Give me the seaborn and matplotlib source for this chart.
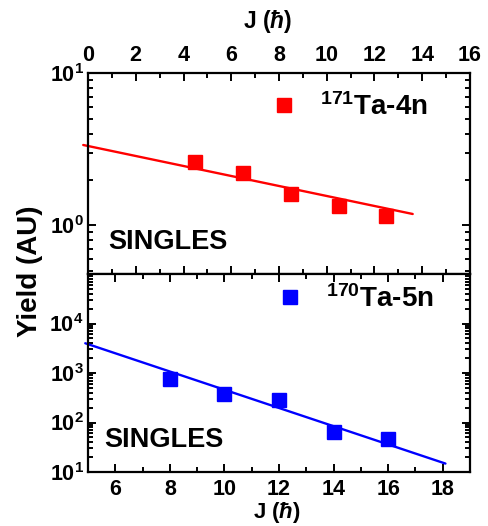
import numpy as np
import pandas as pd
import matplotlib
matplotlib.use("Agg")
import matplotlib.pyplot as plt
import seaborn as sns
from matplotlib.ticker import FixedLocator, MultipleLocator, FuncFormatter, LogLocator, NullFormatter

# ---- data ----
j_171 = [4.5, 6.5, 8.5, 10.5, 12.5]
yield_171 = [2.6, 2.2, 1.6, 1.35, 1.16]
fit_171_j = [-0.2, 13.6]
fit_171_y = [3.38, 1.19]

j_170 = [8, 10, 12, 14, 16]
yield_170 = [760, 380, 280, 65, 46]
fit_170_j = [4.9, 18.1]
fit_170_y = [3990, 14.8]

label_171 = r"$^{\mathbf{171}}$Ta-4n"
label_170 = r"$^{\mathbf{170}}$Ta-5n"
panel_text = "SINGLES"
xlabel = r"J ($\hbar$)"
ylabel = "Yield (AU)"

sns.set_style("ticks")
plt.rcParams["font.family"] = ["Liberation Sans", "DejaVu Sans"]
plt.rcParams["font.weight"] = "bold"
plt.rcParams["mathtext.fontset"] = "custom"
plt.rcParams["mathtext.rm"] = "Liberation Sans:bold"
plt.rcParams["mathtext.bf"] = "Liberation Sans:bold"
plt.rcParams["mathtext.it"] = "Liberation Sans:bold:italic"
plt.rcParams["axes.linewidth"] = 1.6
for k in ["text.color", "axes.labelcolor", "xtick.color", "ytick.color", "axes.edgecolor"]:
    plt.rcParams[k] = "black"

fig = plt.figure(figsize=(4.89, 5.26), dpi=100)
L, R = 88 / 489, 470 / 489
top_t, mid, bot = 1 - 73.3 / 526, 1 - 274 / 526, 1 - 472 / 526
ax1 = fig.add_axes([L, mid, R - L, top_t - mid])
ax2 = fig.add_axes([L, bot, R - L, mid - bot])

df1 = pd.DataFrame({"J": j_171, "Y": yield_171})
df2 = pd.DataFrame({"J": j_170, "Y": yield_170})

red = "#ff0000"
blue = "#0000ff"

sns.lineplot(x=fit_171_j, y=fit_171_y, ax=ax1, color=red, lw=1.7, clip_on=False)
ax1.plot(df1["J"], df1["Y"], ls="none", marker="s", ms=10, color=red, label=label_171, clip_on=False)
sns.lineplot(x=fit_170_j, y=fit_170_y, ax=ax2, color=blue, lw=1.7, clip_on=False)
ax2.plot(df2["J"], df2["Y"], ls="none", marker="s", ms=10, color=blue, label=label_170, clip_on=False)

fmt = FuncFormatter(lambda v, p: r"$\mathbf{10^{%d}}$" % int(round(np.log10(v))))

for ax in (ax1, ax2):
    ax.set_yscale("log")
    ax.yaxis.set_major_formatter(fmt)
    ax.yaxis.set_minor_formatter(NullFormatter())
    ax.tick_params(which="both", direction="in", top=True, right=True, width=1.4)
    ax.tick_params(which="major", length=6, labelsize=15.5)
    ax.tick_params(which="minor", length=3.5)
    ax.tick_params(axis="y", pad=3)
    ax.set_xlabel("")
    ax.set_ylabel("")

# top panel
ax1.set_xlim(0, 16)
ax1.set_ylim(0.48, 10)
ax1.xaxis.set_major_locator(MultipleLocator(2))
ax1.xaxis.set_minor_locator(MultipleLocator(1))
ax1.yaxis.set_major_locator(LogLocator(base=10, numticks=10))
ax1.yaxis.set_minor_locator(LogLocator(base=10, subs=np.arange(2, 10), numticks=20))
ax1.xaxis.tick_top()
ax1.tick_params(which="both", bottom=True, top=True, labelbottom=False, labeltop=True)
ax1.tick_params(axis="x", pad=5)
ax1.xaxis.set_label_position("top")
ax1.set_xlabel(xlabel, fontsize=16.5, fontweight="bold")
ax1.xaxis.set_label_coords(0.469, 1.256)
ax1.xaxis.label.set_va("center")
ax1.text(0.052, 0.161, panel_text, transform=ax1.transAxes, fontsize=19.5, fontweight="bold", va="center")
ax1.legend(loc="center left", bbox_to_anchor=(0.476, 0.832), frameon=False, handlelength=1.0,
           handletextpad=0.8, borderpad=0, borderaxespad=0, prop={"size": 20, "weight": "bold"})

# bottom panel
ax2.set_xlim(5, 19)
ax2.set_ylim(10, 1e5)
ax2.xaxis.set_major_locator(MultipleLocator(2))
ax2.xaxis.set_minor_locator(MultipleLocator(1))
ax2.yaxis.set_major_locator(FixedLocator([1e1, 1e2, 1e3, 1e4]))
ax2.yaxis.set_minor_locator(LogLocator(base=10, subs=np.arange(2, 10), numticks=20))
ax2.tick_params(axis="x", pad=5)
ax2.set_xlabel(xlabel, fontsize=16, fontweight="bold")
ax2.xaxis.set_label_coords(0.494, -0.207)
ax2.xaxis.label.set_va("center")
ax2.text(0.042, 0.161, panel_text, transform=ax2.transAxes, fontsize=19.5, fontweight="bold", va="center")
ax2.legend(loc="center left", bbox_to_anchor=(0.492, 0.874), frameon=False, handlelength=1.0,
           handletextpad=0.8, borderpad=0, borderaxespad=0, prop={"size": 20, "weight": "bold"})

fig.text(30 / 489, 1 - 271 / 526, ylabel, rotation=90, fontsize=20, fontweight="bold", ha="center", va="center")

fig.savefig("out.png", dpi=100)
